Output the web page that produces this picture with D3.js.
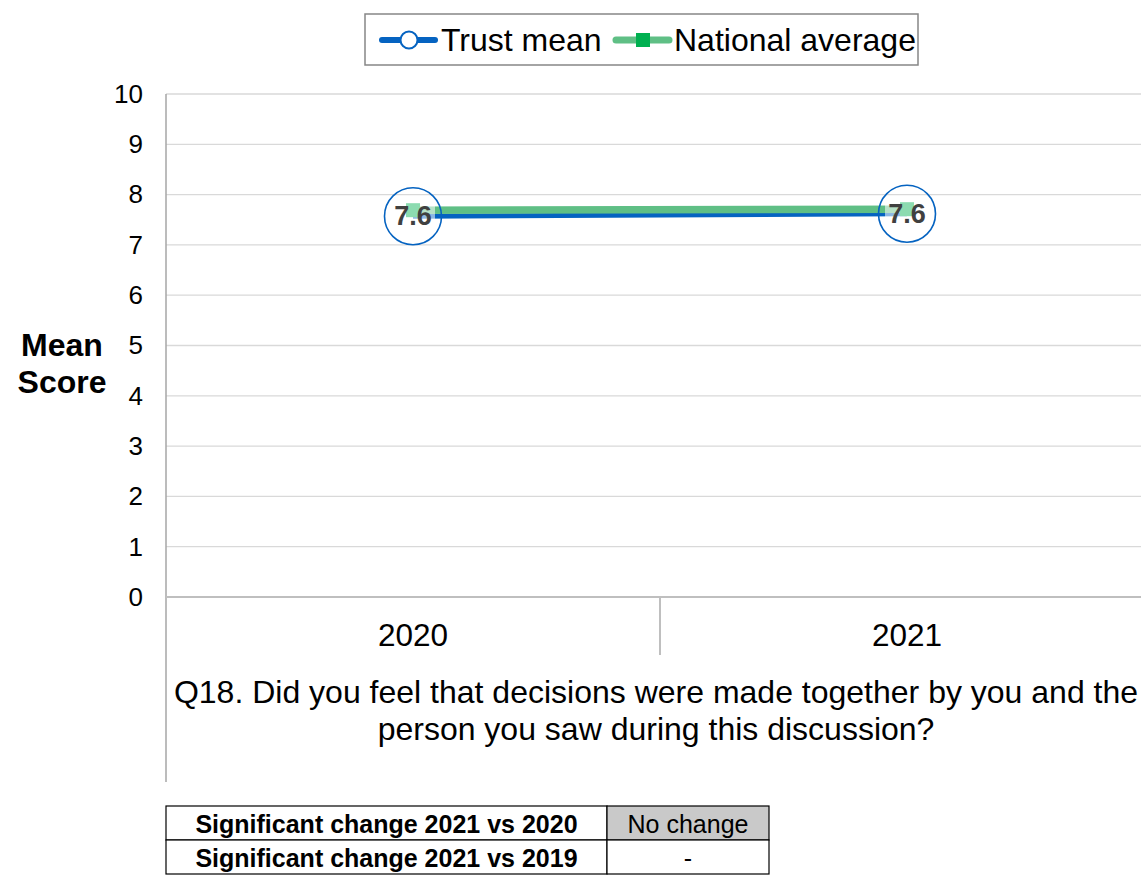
<!DOCTYPE html>
<html>
<head>
<meta charset="utf-8">
<script src="https://cdn.jsdelivr.net/npm/d3@7"></script>
<style>
  body { margin: 0; background: #fff; }
  text { font-family: "Liberation Sans", Arial, sans-serif; }
</style>
</head>
<body>
<div id="chart"></div>
<script>
// chart data
var years = ["2020", "2021"];
var trustMean = [7.57, 7.62];
var nationalAvg = [7.69, 7.71];
var trustLabels = ["7.6", "7.6"];
var yTicks = [0, 1, 2, 3, 4, 5, 6, 7, 8, 9, 10];
var question = ["Q18. Did you feel that decisions were made together by you and the",
                "person you saw during this discussion?"];
var tableRows = ["Significant change 2021 vs 2020", "Significant change 2021 vs 2019"];
var tableValues = ["No change", "-"];

function drawChart(){
    var width = 1141, height = 876;

    var svg = d3.select("#chart")
        .append("svg")
        .attr("width", width)
        .attr("height", height);

    //plot area
    var left = 166, top = 94, bottom = 597, bandRight = 1154;

    var x = d3.scaleBand()
        .domain(years)
        .range([left, bandRight]);

    var y = d3.scaleLinear()
        .domain([0, 10])
        .range([bottom, top]);

    //gridlines
    svg.append("g")
        .selectAll("line")
        .data(yTicks.filter(function(d){ return d > 0; }))
        .enter()
        .append("line")
        .attr("x1", left)
        .attr("x2", width)
        .attr("y1", function(d){ return y(d); })
        .attr("y2", function(d){ return y(d); })
        .attr("stroke", "#d9d9d9")
        .attr("stroke-width", 1.3);

    //y axis labels
    var yAxis = d3.axisLeft(y).tickValues(yTicks).tickSize(0).tickPadding(23);
    var gy = svg.append("g")
        .attr("transform", "translate(" + left + ",0)")
        .call(yAxis);
    gy.select(".domain").remove();
    gy.selectAll("text")
        .attr("font-size", 26)
        .attr("font-family", "Liberation Sans, Arial, sans-serif")
        .attr("fill", "#000");

    //left axis line, runs down through the category area
    svg.append("line")
        .attr("x1", left).attr("x2", left)
        .attr("y1", top).attr("y2", 782)
        .attr("stroke", "#a6a6a6")
        .attr("stroke-width", 1.5);

    //bottom axis
    svg.append("line")
        .attr("x1", left).attr("x2", width)
        .attr("y1", bottom).attr("y2", bottom)
        .attr("stroke", "#bfbfbf")
        .attr("stroke-width", 2);

    //category divider
    svg.append("line")
        .attr("x1", x("2021")).attr("x2", x("2021"))
        .attr("y1", bottom).attr("y2", 655)
        .attr("stroke", "#bfbfbf")
        .attr("stroke-width", 2);

    //category labels
    svg.append("g")
        .selectAll("text")
        .data(years)
        .enter()
        .append("text")
        .attr("x", function(d){ return x(d) + x.bandwidth() / 2; })
        .attr("y", 646)
        .attr("text-anchor", "middle")
        .attr("font-size", 31.5)
        .text(function(d){ return d; });

    //question text
    svg.append("g")
        .selectAll("text")
        .data(question)
        .enter()
        .append("text")
        .attr("x", 656)
        .attr("y", function(d, i){ return 703 + i * 37; })
        .attr("text-anchor", "middle")
        .attr("font-size", 32)
        .text(function(d){ return d; });

    //y axis title
    svg.append("text")
        .attr("x", 62)
        .attr("y", 356)
        .attr("text-anchor", "middle")
        .attr("font-size", 32)
        .attr("font-weight", "bold")
        .text("Mean");
    svg.append("text")
        .attr("x", 62)
        .attr("y", 393)
        .attr("text-anchor", "middle")
        .attr("font-size", 32)
        .attr("font-weight", "bold")
        .text("Score");

    var cx = function(i){ return x(years[i]) + x.bandwidth() / 2; };
    var line = d3.line()
        .x(function(d, i){ return cx(i); })
        .y(function(d){ return y(d); });

    //trust line (under), national line (over)
    svg.append("path")
        .datum(trustMean)
        .attr("d", line)
        .attr("fill", "none")
        .attr("stroke", "#0563c1")
        .attr("stroke-width", 5);

    svg.append("path")
        .datum(nationalAvg)
        .attr("d", line)
        .attr("fill", "none")
        .attr("stroke", "#5fbf85")
        .attr("stroke-width", 7.5);

    //national markers
    svg.append("g")
        .selectAll("rect")
        .data(nationalAvg)
        .enter()
        .append("rect")
        .attr("x", function(d, i){ return cx(i) - 7; })
        .attr("y", function(d){ return y(d) - 7; })
        .attr("width", 14)
        .attr("height", 14)
        .attr("fill", "#00b050");

    //trust markers: large hollow circles
    svg.append("g")
        .selectAll("circle")
        .data(trustMean)
        .enter()
        .append("circle")
        .attr("cx", function(d, i){ return cx(i); })
        .attr("cy", function(d){ return y(d); })
        .attr("r", 28.5)
        .attr("fill", "none")
        .attr("stroke", "#0563c1")
        .attr("stroke-width", 1.6);

    //data labels with faded background
    var labels = svg.append("g")
        .selectAll("g")
        .data(trustMean)
        .enter()
        .append("g")
        .attr("transform", function(d, i){ return "translate(" + cx(i) + "," + (y(d) - 1) + ")"; });
    labels.append("rect")
        .attr("x", -22).attr("y", -13)
        .attr("width", 44).attr("height", 28)
        .attr("fill", "#fff")
        .attr("fill-opacity", 0.55);
    labels.append("text")
        .attr("y", 10)
        .attr("text-anchor", "middle")
        .attr("font-size", 27)
        .attr("font-weight", "bold")
        .attr("fill", "#404040")
        .text(function(d, i){ return trustLabels[i]; });

    //legend
    var lg = svg.append("g");
    lg.append("rect")
        .attr("x", 365).attr("y", 14)
        .attr("width", 553).attr("height", 51)
        .attr("fill", "#fff")
        .attr("stroke", "#868686")
        .attr("stroke-width", 1.5);
    lg.append("line")
        .attr("x1", 382).attr("x2", 435)
        .attr("y1", 40).attr("y2", 40)
        .attr("stroke", "#0563c1").attr("stroke-width", 6)
        .attr("stroke-linecap", "round");
    lg.append("circle")
        .attr("cx", 409).attr("cy", 40).attr("r", 8.5)
        .attr("fill", "#fff").attr("stroke", "#0563c1").attr("stroke-width", 2);
    lg.append("text")
        .attr("x", 441).attr("y", 51)
        .attr("font-size", 32)
        .text("Trust mean");
    lg.append("line")
        .attr("x1", 616).attr("x2", 669)
        .attr("y1", 40).attr("y2", 40)
        .attr("stroke", "#5fbf85").attr("stroke-width", 7)
        .attr("stroke-linecap", "round");
    lg.append("rect")
        .attr("x", 636).attr("y", 33).attr("width", 14).attr("height", 14)
        .attr("fill", "#00b050");
    lg.append("text")
        .attr("x", 674).attr("y", 51)
        .attr("font-size", 32)
        .text("National average");

    //significance table
    var tx = 166, tMid = 607, tRight = 769, tTop = 806, rowH = 34;
    var rows = svg.append("g")
        .selectAll("g")
        .data(tableRows)
        .enter()
        .append("g")
        .attr("transform", function(d, i){ return "translate(0," + (tTop + i * rowH) + ")"; });
    rows.append("rect")
        .attr("x", tx).attr("y", 0)
        .attr("width", tMid - tx).attr("height", rowH)
        .attr("fill", "#fff").attr("stroke", "#000").attr("stroke-width", 1.2);
    rows.append("rect")
        .attr("x", tMid).attr("y", 0)
        .attr("width", tRight - tMid).attr("height", rowH)
        .attr("fill", function(d, i){ return tableValues[i] === "No change" ? "#c9c9c9" : "#fff"; })
        .attr("stroke", "#000").attr("stroke-width", 1.2);
    rows.append("text")
        .attr("x", (tx + tMid) / 2).attr("y", 27)
        .attr("text-anchor", "middle")
        .attr("font-size", 25)
        .attr("font-weight", "bold")
        .text(function(d){ return d; });
    rows.append("text")
        .attr("x", (tMid + tRight) / 2).attr("y", 27)
        .attr("text-anchor", "middle")
        .attr("font-size", 25)
        .text(function(d, i){ return tableValues[i]; });
}

window.onload = drawChart();
</script>
</body>
</html>
